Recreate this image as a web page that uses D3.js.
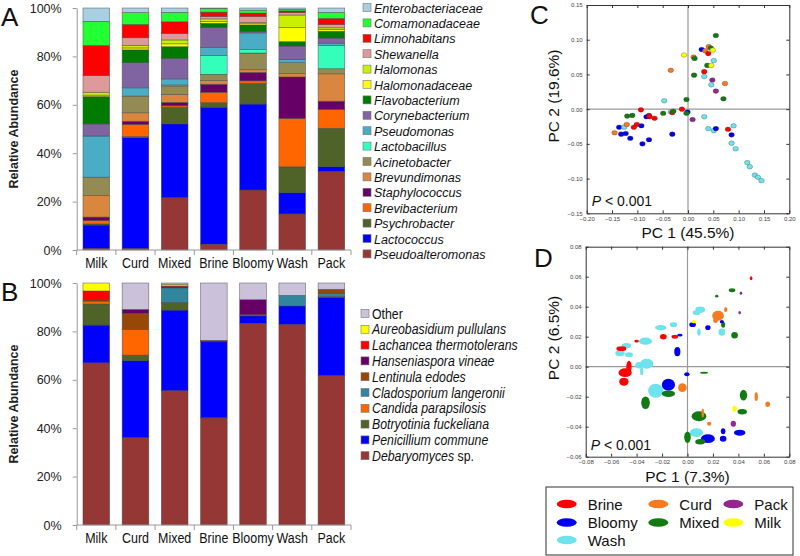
<!DOCTYPE html>
<html>
<head>
<meta charset="utf-8">
<script src="https://cdn.jsdelivr.net/npm/d3@7"></script>
<style>
  body { margin: 0; background: #fff; }
  svg { font-family: "Liberation Sans", Arial, sans-serif; }
</style>
</head>
<body>
<div id="chart"></div>
<script>
// sample types on the x axis of A and B
const samples = ["Milk", "Curd", "Mixed", "Brine", "Bloomy", "Wash", "Pack"];

// A: bacteria, in legend order (top of stack first)
const bacteria = ["Enterobacteriaceae", "Comamonadaceae", "Limnohabitans", "Shewanella", "Halomonas",
  "Halomonadaceae", "Flavobacterium", "Corynebacterium", "Pseudomonas", "Lactobacillus", "Acinetobacter",
  "Brevundimonas", "Staphylococcus", "Brevibacterium", "Psychrobacter", "Lactococcus", "Pseudoalteromonas"];
const bacteriaColors = ["#a9cfe0", "#22ff33", "#ff0000", "#de9a9a", "#c8f000", "#ffff00", "#007a00", "#8064a2",
  "#4bacc6", "#33ffbb", "#948a54", "#d9863e", "#660066", "#ff6600", "#4f6228", "#0000ff", "#953735"];
// % per sample: Milk, Curd, Mixed, Brine, Bloomy, Wash, Pack
const bacteriaAbundance = [
  [5.5, 1.9, 1.8, 0.3, 0.9, 0.6, 1.9],
  [10.0, 4.9, 3.9, 1.4, 1.2, 0.6, 2.5],
  [12.4, 5.5, 4.8, 1.8, 1.4, 0.7, 2.5],
  [6.9, 3.2, 2.7, 1.0, 2.5, 1.0, 1.4],
  [1.2, 1.0, 1.6, 1.1, 0.5, 5.2, 0.7],
  [0.6, 0.8, 1.2, 0.7, 0.5, 5.8, 0.7],
  [11.3, 5.3, 4.8, 1.7, 2.8, 1.8, 2.8],
  [5.0, 10.4, 8.5, 8.4, 0.5, 5.5, 2.1],
  [17.0, 3.4, 2.5, 3.3, 6.9, 1.4, 1.0],
  [0, 0, 0.4, 7.7, 1.4, 0, 9.6],
  [7.6, 6.9, 3.5, 2.6, 6.9, 4.5, 2.1],
  [8.9, 3.5, 3.3, 1.5, 1.1, 1.4, 11.3],
  [1.4, 1.3, 1.4, 3.3, 3.5, 17.1, 3.4],
  [1.4, 5.0, 0.6, 4.3, 1.0, 20.0, 7.8],
  [0.5, 0.5, 6.9, 1.9, 8.6, 10.7, 15.9],
  [9.6, 45.7, 30.5, 56.6, 35.5, 8.8, 2.0],
  [0.7, 0.7, 21.6, 2.4, 24.8, 14.9, 32.4]
];

// B: fungi, in legend order
const fungi = ["Other", "Aureobasidium pullulans", "Lachancea thermotolerans", "Hanseniaspora vineae",
  "Lentinula edodes", "Cladosporium langeronii", "Candida parapsilosis", "Botryotinia fuckeliana",
  "Penicillium commune", "Debaryomyces sp."];
const fungiColors = ["#ccc1da", "#ffff00", "#ff0000", "#660066", "#974806", "#31859c", "#ff6600",
  "#4f6228", "#0000ff", "#953735"];
const fungiAbundance = [
  [0, 11.0, 0.5, 23.7, 6.9, 5.1, 2.6],
  [3.4, 0, 0.7, 0, 0, 0, 0],
  [3.7, 0, 0.4, 0, 0, 0, 0],
  [0, 1.6, 0.4, 0.6, 6.2, 0, 0],
  [0.5, 6.7, 0, 0, 0.5, 0, 1.8],
  [0, 0, 6.0, 0, 0, 4.4, 1.2],
  [1.2, 10.6, 0, 0, 0, 0, 0],
  [8.7, 2.3, 3.2, 0, 0, 0, 0.3],
  [15.6, 31.8, 33.3, 31.4, 3.1, 7.6, 32.4],
  [67.0, 36.1, 55.5, 44.3, 83.3, 82.9, 61.7]
];
const percentTicks = [0, 20, 40, 60, 80, 100];

// C and D: PCA groups
const groups = ["Brine", "Curd", "Pack", "Bloomy", "Mixed", "Milk", "Wash"];
const groupColors = ["#ff0000", "#f57a20", "#93278f", "#0000ee", "#137a13", "#ffff00", "#6de3ee"];

// C: [PC1, PC2, group]
const pcaC = [
  [0.055, 0.106, "Mixed"], [0.027, 0.086, "Bloomy"], [0.034, 0.084, "Curd"], [0.041, 0.090, "Curd"],
  [0.045, 0.088, "Mixed"], [0.049, 0.085, "Milk"], [0.040, 0.080, "Brine"], [-0.008, 0.078, "Milk"],
  [0.011, 0.075, "Curd"], [0.013, 0.073, "Mixed"], [0.051, 0.070, "Wash"], [0.038, 0.063, "Mixed"],
  [0.046, 0.063, "Milk"], [-0.034, 0.056, "Curd"], [0.032, 0.054, "Brine"], [0.012, 0.049, "Mixed"],
  [0.032, 0.047, "Wash"], [0.048, 0.042, "Pack"], [0.073, 0.037, "Curd"], [0.046, 0.035, "Wash"],
  [0.055, 0.026, "Pack"], [0.070, 0.015, "Mixed"], [-0.003, 0.014, "Mixed"], [-0.047, 0.012, "Wash"],
  [-0.012, 0.000, "Brine"], [-0.001, -0.004, "Bloomy"], [-0.003, -0.006, "Mixed"], [-0.034, -0.004, "Wash"],
  [-0.031, -0.005, "Brine"], [-0.029, -0.003, "Mixed"], [-0.049, -0.006, "Mixed"], [-0.093, -0.001, "Brine"],
  [-0.110, -0.009, "Mixed"], [-0.120, -0.010, "Mixed"], [-0.077, -0.009, "Brine"], [-0.082, -0.011, "Bloomy"],
  [-0.076, -0.011, "Brine"], [-0.066, -0.013, "Brine"], [0.009, -0.015, "Pack"], [0.032, -0.011, "Wash"],
  [-0.101, -0.022, "Brine"], [-0.107, -0.026, "Brine"], [-0.092, -0.024, "Bloomy"], [-0.136, -0.026, "Bloomy"],
  [-0.126, -0.026, "Wash"], [-0.121, -0.022, "Curd"], [-0.145, -0.034, "Curd"], [-0.132, -0.036, "Bloomy"],
  [-0.123, -0.035, "Bloomy"], [-0.114, -0.042, "Bloomy"], [-0.077, -0.044, "Bloomy"], [-0.090, -0.050, "Bloomy"],
  [-0.031, -0.036, "Bloomy"], [0.040, -0.028, "Wash"], [0.051, -0.031, "Wash"], [0.055, -0.028, "Bloomy"],
  [0.079, -0.029, "Brine"], [0.090, -0.024, "Wash"], [0.086, -0.037, "Bloomy"], [0.086, -0.049, "Wash"],
  [0.094, -0.057, "Wash"], [0.117, -0.077, "Wash"], [0.122, -0.083, "Wash"], [0.132, -0.095, "Wash"],
  [0.138, -0.098, "Wash"], [0.145, -0.103, "Wash"]
];
const xTicksC = [-0.20, -0.15, -0.10, -0.05, 0, 0.05, 0.10, 0.15, 0.20];
const yTicksC = [-0.15, -0.10, -0.05, 0, 0.05, 0.10, 0.15];

// D: [PC1, PC2, spread PC1, spread PC2, group]
const pcaD = [
  [0.050, 0.059, 0.0010, 0.0013, "Brine"], [0.035, 0.051, 0.0026, 0.0013, "Mixed"],
  [0.023, 0.047, 0.0013, 0.0009, "Mixed"], [0.042, 0.049, 0.0010, 0.0011, "Pack"],
  [0.041, 0.036, 0.0010, 0.0011, "Pack"], [0.010, 0.038, 0.0039, 0.0022, "Wash"],
  [0.007, 0.036, 0.0029, 0.0016, "Wash"], [0.024, 0.034, 0.0046, 0.0033, "Curd"],
  [0.030, 0.038, 0.0013, 0.0016, "Curd"], [0.022, 0.031, 0.0018, 0.0018, "Curd"],
  [0.027, 0.030, 0.0016, 0.0011, "Bloomy"], [0.028, 0.028, 0.0016, 0.0020, "Mixed"],
  [0.005, 0.030, 0.0018, 0.0011, "Milk"], [0.004, 0.028, 0.0026, 0.0016, "Bloomy"],
  [0.016, 0.026, 0.0021, 0.0016, "Bloomy"], [0.009, 0.023, 0.0013, 0.0024, "Wash"],
  [0.027, 0.023, 0.0026, 0.0024, "Wash"], [0.037, 0.021, 0.0026, 0.0022, "Mixed"],
  [-0.011, 0.028, 0.0029, 0.0016, "Wash"], [-0.021, 0.026, 0.0045, 0.0018, "Wash"],
  [-0.019, 0.020, 0.0026, 0.0018, "Brine"], [-0.010, 0.020, 0.0026, 0.0013, "Brine"],
  [-0.006, 0.021, 0.0021, 0.0009, "Bloomy"], [-0.008, 0.010, 0.0024, 0.0031, "Bloomy"],
  [-0.040, 0.017, 0.0018, 0.0009, "Brine"], [-0.033, 0.017, 0.0052, 0.0024, "Wash"],
  [-0.048, 0.014, 0.0037, 0.0018, "Wash"], [-0.052, 0.012, 0.0039, 0.0016, "Brine"],
  [-0.053, 0.009, 0.0037, 0.0020, "Wash"], [-0.046, 0.008, 0.0031, 0.0016, "Wash"],
  [-0.032, 0.002, 0.0052, 0.0033, "Wash"], [-0.038, 0.001, 0.0031, 0.0022, "Wash"],
  [-0.036, -0.003, 0.0013, 0.0027, "Wash"], [-0.046, 0.000, 0.0021, 0.0040, "Brine"],
  [-0.049, -0.004, 0.0052, 0.0029, "Brine"], [-0.050, -0.010, 0.0037, 0.0027, "Brine"],
  [-0.0005, -0.005, 0.0021, 0.0013, "Bloomy"], [0.013, -0.004, 0.0031, 0.0007, "Mixed"],
  [-0.015, -0.012, 0.0052, 0.0040, "Bloomy"], [-0.025, -0.016, 0.0060, 0.0047, "Wash"],
  [-0.015, -0.018, 0.0052, 0.0022, "Mixed"], [-0.004, -0.014, 0.0034, 0.0029, "Curd"],
  [-0.033, -0.024, 0.0034, 0.0042, "Mixed"], [0.044, -0.019, 0.0029, 0.0036, "Mixed"],
  [0.054, -0.020, 0.0013, 0.0029, "Curd"], [0.063, -0.025, 0.0018, 0.0018, "Curd"],
  [0.037, -0.028, 0.0018, 0.0020, "Milk"], [0.043, -0.030, 0.0037, 0.0018, "Mixed"],
  [0.009, -0.033, 0.0058, 0.0033, "Mixed"], [0.012, -0.031, 0.0010, 0.0029, "Curd"],
  [0.017, -0.038, 0.0016, 0.0013, "Curd"], [0.036, -0.038, 0.0021, 0.0020, "Pack"],
  [0.028, -0.043, 0.0018, 0.0020, "Bloomy"], [0.041, -0.044, 0.0045, 0.0020, "Bloomy"],
  [0.007, -0.044, 0.0052, 0.0029, "Wash"], [0.016, -0.048, 0.0055, 0.0029, "Bloomy"],
  [0.000, -0.047, 0.0026, 0.0038, "Mixed"], [0.010, -0.050, 0.0039, 0.0018, "Mixed"],
  [0.028, -0.048, 0.0026, 0.0020, "Bloomy"]
];
const xTicksD = [-0.08, -0.06, -0.04, -0.02, 0, 0.02, 0.04, 0.06, 0.08];
const yTicksD = [-0.06, -0.04, -0.02, 0, 0.02, 0.04, 0.06, 0.08];

const width = 800;
const height = 556;
const font = "Liberation Sans, Arial, sans-serif";

const svg = d3.select("#chart")
  .append("svg")
  .attr("width", width)
  .attr("height", height);

const groupColor = d3.scaleOrdinal().domain(groups).range(groupColors);

// text squeezed sideways like the original figure
function squeezed(g, x, y, str, size, sx, anchor) {
  return g.append("text")
    .attr("transform", `translate(${x},${y}) scale(${sx},1)`)
    .attr("text-anchor", anchor || "start")
    .attr("font-size", size)
    .attr("fill", "#111")
    .text(str);
}

function panelLabel(x, y, str) {
  svg.append("text").attr("x", x).attr("y", y)
    .attr("font-size", 26).attr("fill", "#111").text(str);
}

function drawBars(cfg) {
  const x = d3.scaleBand().domain(samples).range([76.7, 351]).paddingInner(0.32).paddingOuter(0.16);
  const y = d3.scaleLinear().domain([0, 100]).range([cfg.bottom, cfg.top]);

  const rows = samples.map((s, j) => {
    const r = { sample: s };
    cfg.taxa.forEach((t, i) => { r[t] = cfg.values[i][j]; });
    return r;
  });
  const series = d3.stack().keys(cfg.taxa.slice().reverse())(rows);

  const g = svg.append("g");

  g.selectAll("g.layer")
    .data(series)
    .join("g")
    .attr("class", "layer")
    .attr("fill", d => cfg.colors[cfg.taxa.indexOf(d.key)])
    .selectAll("rect")
    .data(d => d.filter(v => v[1] > v[0]))
    .join("rect")
    .attr("x", d => x(d.data.sample))
    .attr("y", d => y(Math.min(d[1], 100)))
    .attr("width", x.bandwidth())
    .attr("height", d => y(d[0]) - y(Math.min(d[1], 100)))
    .attr("stroke", "#444")
    .attr("stroke-width", 0.6)
    .attr("stroke-opacity", 0.75);

  // y axis
  const ya = g.append("g")
    .attr("transform", `translate(${x.range()[0]},0)`)
    .call(d3.axisLeft(y).tickValues(percentTicks).tickFormat(d => d + "%")
      .tickSize(4).tickSizeOuter(0).tickPadding(11));
  ya.attr("font-family", font);
  ya.select(".domain").attr("stroke", "#999");
  ya.selectAll(".tick line").attr("stroke", "#999");
  ya.selectAll(".tick text").attr("font-size", 12.5).attr("fill", "#222");

  // x axis with ticks between the bars
  const gap = (x.step() - x.bandwidth()) / 2;
  const edges = samples.map(s => x(s) - gap).concat([x.range()[1]]);
  g.append("line")
    .attr("x1", x.range()[0]).attr("x2", x.range()[1])
    .attr("y1", cfg.bottom).attr("y2", cfg.bottom)
    .attr("stroke", "#999");
  g.selectAll("line.xtick")
    .data(edges)
    .join("line")
    .attr("class", "xtick")
    .attr("x1", d => d).attr("x2", d => d)
    .attr("y1", cfg.bottom).attr("y2", cfg.bottom + 5)
    .attr("stroke", "#999");
  samples.forEach(s => squeezed(g, x(s) + x.bandwidth() / 2, cfg.bottom + 18, s, 14.5, 0.86, "middle"));

  // y title
  g.append("text")
    .attr("transform", `translate(18,${(cfg.top + cfg.bottom) / 2}) rotate(-90)`)
    .attr("text-anchor", "middle")
    .attr("font-size", 12.5)
    .attr("font-weight", "bold")
    .attr("fill", "#222")
    .text("Relative Abundance");

  // legend
  const lg = g.append("g");
  cfg.taxa.forEach((t, i) => {
    const cy = cfg.legendY + i * cfg.legendStep;
    lg.append("rect")
      .attr("x", cfg.legendX).attr("y", cy - 4)
      .attr("width", 8).attr("height", 8)
      .attr("fill", cfg.colors[i])
      .attr("stroke", "#777").attr("stroke-width", 0.6);
    const txt = squeezed(lg, cfg.legendX + 11, cy + 5, "", cfg.legendFont, cfg.legendSqueeze);
    if (t === "Other") {
      txt.text(t);
    } else if (t.endsWith(" sp.")) {
      txt.append("tspan").attr("font-style", "italic").text(t.replace(" sp.", ""));
      txt.append("tspan").text(" sp.");
    } else {
      txt.attr("font-style", "italic").text(t);
    }
  });
}

function drawPca(cfg) {
  const x = d3.scaleLinear().domain(cfg.xDomain).range([cfg.left, cfg.right]);
  const y = d3.scaleLinear().domain(cfg.yDomain).range([cfg.bottom, cfg.top]);
  const fmt = d3.format(".2f");
  const g = svg.append("g");

  // zero lines
  g.append("line").attr("x1", x(0)).attr("x2", x(0)).attr("y1", cfg.top).attr("y2", cfg.bottom)
    .attr("stroke", "#999").attr("stroke-width", 1.2);
  g.append("line").attr("x1", cfg.left).attr("x2", cfg.right).attr("y1", y(0)).attr("y2", y(0))
    .attr("stroke", "#999").attr("stroke-width", 1.2);

  cfg.drawMarks(g, x, y);

  const axes = [
    [d3.axisBottom(x).tickValues(cfg.xTicks).tickFormat(fmt).tickPadding(3), `translate(0,${cfg.bottom})`],
    [d3.axisTop(x).tickValues(cfg.xTicks).tickFormat(""), `translate(0,${cfg.top})`],
    [d3.axisLeft(y).tickValues(cfg.yTicks).tickFormat(fmt).tickPadding(4), `translate(${cfg.left},0)`],
    [d3.axisRight(y).tickValues(cfg.yTicks).tickFormat(""), `translate(${cfg.right},0)`]
  ];
  axes.forEach(([axis, tr]) => {
    const a = g.append("g").attr("transform", tr)
      .call(axis.tickSize(-3).tickSizeOuter(0));
    a.attr("font-family", font);
    a.select(".domain").attr("stroke", "#333");
    a.selectAll(".tick line").attr("stroke", "#333");
    a.selectAll(".tick text").attr("font-size", 6).attr("fill", "#444");
  });

  g.append("text")
    .attr("x", (cfg.left + cfg.right) / 2).attr("y", cfg.bottom + 25)
    .attr("text-anchor", "middle").attr("font-size", 15.5).attr("fill", "#111")
    .text(cfg.xTitle);
  g.append("text")
    .attr("transform", `translate(559,${cfg.yTitleY}) rotate(-90)`)
    .attr("text-anchor", "middle").attr("font-size", 15.5).attr("fill", "#111")
    .text(cfg.yTitle);

  const p = g.append("text")
    .attr("x", cfg.left + 5).attr("y", cfg.bottom - 7)
    .attr("font-size", 14).attr("fill", "#111");
  p.append("tspan").attr("font-style", "italic").text("P");
  p.append("tspan").text(" < 0.001");
}

// A
panelLabel(1, 26, "A");
drawBars({
  top: 8, bottom: 250, taxa: bacteria, colors: bacteriaColors, values: bacteriaAbundance,
  legendX: 363, legendY: 7.5, legendStep: 15.4, legendFont: 13.5, legendSqueeze: 0.93
});

// B
panelLabel(1, 301, "B");
drawBars({
  top: 283, bottom: 525, taxa: fungi, colors: fungiColors, values: fungiAbundance,
  legendX: 361, legendY: 313.5, legendStep: 15.8, legendFont: 14, legendSqueeze: 0.88
});

// C
panelLabel(530, 24, "C");
drawPca({
  left: 586.7, right: 789.3, top: 5, bottom: 213.3,
  xDomain: [-0.2, 0.2], yDomain: [-0.15, 0.15], xTicks: xTicksC, yTicks: yTicksC,
  xTitle: "PC 1 (45.5%)", yTitle: "PC 2 (19.6%)", yTitleY: 96,
  drawMarks: (g, x, y) => {
    g.selectAll("ellipse.pt")
      .data(pcaC)
      .join("ellipse")
      .attr("class", "pt")
      .attr("cx", d => x(d[0]))
      .attr("cy", d => y(d[1]))
      .attr("rx", 2.8)
      .attr("ry", 2.3)
      .attr("fill", d => groupColor(d[2]))
      .attr("stroke", "#333")
      .attr("stroke-width", 0.3);
  }
});

// D
panelLabel(534, 267, "D");
drawPca({
  left: 585.7, right: 789.3, top: 246.7, bottom: 456.7,
  xDomain: [-0.08, 0.08], yDomain: [-0.06, 0.08], xTicks: xTicksD, yTicks: yTicksD,
  xTitle: "PC 1 (7.3%)", yTitle: "PC 2 (6.5%)", yTitleY: 338,
  drawMarks: (g, x, y) => {
    const sorted = pcaD.slice().sort((a, b) => b[2] * b[3] - a[2] * a[3]);
    g.selectAll("ellipse.ell")
      .data(sorted)
      .join("ellipse")
      .attr("class", "ell")
      .attr("cx", d => x(d[0]))
      .attr("cy", d => y(d[1]))
      .attr("rx", d => x(d[0] + d[2]) - x(d[0]))
      .attr("ry", d => y(d[1]) - y(d[1] + d[3]))
      .attr("fill", d => groupColor(d[4]));
  }
});

// group legend
const leg = svg.append("g");
leg.append("rect")
  .attr("x", 546).attr("y", 487).attr("width", 247).attr("height", 68)
  .attr("fill", "#fff").attr("stroke", "#333").attr("stroke-width", 1);
const legCols = [566.7, 658.3, 733.3];
const legRows = [504, 522.5, 540];
groups.forEach((name, i) => {
  const cx = legCols[i % 3];
  const cy = legRows[Math.floor(i / 3)];
  leg.append("ellipse")
    .attr("cx", cx).attr("cy", cy).attr("rx", 10).attr("ry", 4.3)
    .attr("fill", groupColor(name));
  leg.append("text")
    .attr("x", cx + 21).attr("y", cy + 5.5)
    .attr("font-size", 15).attr("fill", "#111")
    .text(name);
});
</script>
</body>
</html>
